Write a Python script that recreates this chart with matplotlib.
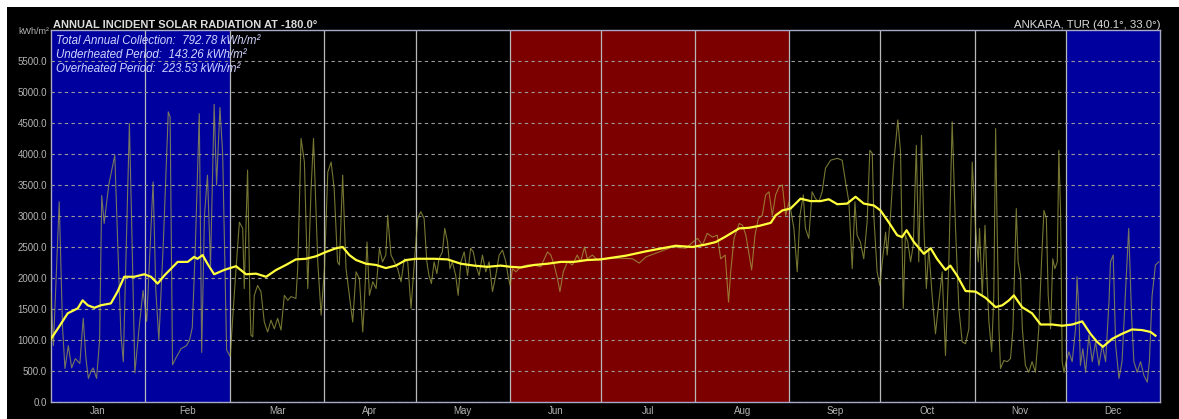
import matplotlib
matplotlib.use('Agg')
import matplotlib.pyplot as plt
from matplotlib.patches import Rectangle
import numpy as np

plt.rcParams['font.family'] = ['Liberation Sans', 'DejaVu Sans']

# months of the year and which ones fall in the heating / cooling periods
months = ['Jan', 'Feb', 'Mar', 'Apr', 'May', 'Jun', 'Jul', 'Aug', 'Sep', 'Oct', 'Nov', 'Dec']
month_len = [31, 28, 31, 30, 31, 30, 31, 31, 30, 31, 30, 31]
underheated = ['Jan', 'Feb', 'Dec']
overheated = ['Jun', 'Jul', 'Aug']

title = 'ANNUAL INCIDENT SOLAR RADIATION AT -180.0°'
location = 'ANKARA, TUR (40.1°, 33.0°)'
total_annual = 792.78
underheated_total = 143.26
overheated_total = 223.53

# daily incident radiation (thin trace), day of year vs kWh/m²
daily_day = [
    0, 0.8, 2.7, 3.8, 4.6, 5.7, 6.8, 8.0, 9.5, 10.6,
    11.5, 12.3, 13.2, 13.9, 15.0, 16.0, 16.7, 17.5, 19.0, 21.0,
    22.0, 23.0, 23.8, 25.8, 26.5, 27.6, 29.0, 30.3, 31.5, 33.6,
    34.5, 35.5, 37.0, 38.6, 39.2, 40.0, 41.0, 42.8, 44.6, 45.6,
    46.5, 47.5, 48.8, 49.6, 50.5, 51.5, 52.5, 53.7, 54.5, 55.6,
    56.5, 57.8, 59.0, 60.0,
    60.9, 62.0, 63.1, 63.6, 64.7, 65.5, 65.8, 66.4, 66.9, 68.0,
    69.1, 70.2, 71.3, 72.4, 73.5, 74.6, 75.7, 76.8, 77.9, 79.0,
    80.6, 81.2, 82.3, 83.4, 84.5, 85.6, 86.4, 87.8, 88.9, 90.0,
    91.1, 92.2, 93.2, 94.3, 94.9, 96.0, 97.1, 98.2, 99.3, 100.4,
    101.5, 102.6, 103.1, 104.0, 104.8, 105.9, 107.0, 108.1, 109.1, 110.2,
    110.8, 111.9, 113.0, 114.1, 115.2, 116.3, 117.4, 118.5, 119.6, 120.7,
    121.7, 122.8, 123.7, 124.4, 125.2, 126.1, 127.0, 127.7, 128.8, 129.6,
    130.5, 131.3, 132.1, 133.2, 134.0, 134.9, 136.0, 137.1, 138.1, 139.0,
    139.8, 140.9, 142.0, 143.1, 144.2, 145.3, 146.4, 147.5, 148.6, 149.7,
    150.4, 151.1, 151.9, 153.0, 154.6, 156.8, 159.0, 161.2, 163.4, 164.5,
    165.6, 166.7, 167.5, 168.6, 170.0, 171.6, 173.2, 174.3, 175.6, 176.5,
    178.2, 179.8, 181.5,
    182.6, 187.0, 191.4, 193.6, 195.8, 200.1, 204.5, 208.9, 211.3, 212.8,
    214.4, 216.0, 217.7, 219.3, 220.4, 221.9, 223.0, 223.7, 224.8, 226.5,
    227.6, 228.7, 229.8, 230.6, 231.7, 232.8, 234.1, 235.2, 236.3, 237.4,
    238.5, 239.6, 240.7, 241.8, 242.9,
    243.4, 244.5, 245.6, 246.5, 247.6, 248.3, 249.4, 250.5, 251.6, 252.7,
    253.8, 254.9, 256.6, 258.8, 260.4, 261.5, 262.6, 263.7, 264.6, 265.3,
    266.4, 267.5, 268.6, 269.5, 270.3, 270.8, 271.9, 272.8, 273.6, 274.7,
    275.2, 276.3, 277.4, 278.7, 279.6, 280.5, 281.2, 282.0, 282.9, 283.8,
    284.8, 285.6, 286.5, 287.3, 288.1, 288.9, 290.0, 291.1, 292.2, 293.3,
    294.4, 295.5, 296.6, 297.7, 298.8, 299.9, 301.0, 302.1, 303.2,
    304.3, 305.2, 305.6, 306.5, 307.4, 308.1, 308.7, 309.6, 310.3, 310.9,
    311.4, 312.0, 312.5, 313.6, 314.7, 315.8, 316.6, 317.2, 317.7, 318.3,
    319.1, 319.7, 320.7, 321.8, 322.9, 324.0, 325.1, 326.0, 326.8, 327.6,
    328.2, 329.0, 329.7, 330.4, 331.2, 331.7, 332.3, 332.8, 333.4, 334.1,
    335.0, 336.1, 337.2, 337.7, 338.3, 338.8, 339.6, 340.5, 341.6, 342.7,
    343.8, 344.9, 346.0, 347.1, 348.2, 348.7, 349.6, 350.4, 351.5, 352.5,
    353.6, 354.7, 355.6, 356.4, 357.5, 358.6, 359.7, 360.8, 361.5, 362.4,
    363.5, 364.6,
]
daily_kwh = [
    1750, 910, 3230, 1200, 540, 910, 550, 700, 620, 1350,
    700, 380, 500, 550, 380, 1000, 3330, 2880, 3500, 3980,
    2500, 1100, 650, 4490, 3000, 470, 1200, 1800, 1300, 3550,
    1800, 1000, 2600, 4680, 4600, 600, 700, 860, 910, 1000,
    1200, 2500, 4650, 800, 3000, 3660, 2200, 4800, 3500, 4750,
    4000, 840, 730, 1500,
    2150, 2900, 2800, 1830, 3740, 1560, 1080, 1050, 1720, 1880,
    1780, 1290, 1130, 1320, 1180, 1350, 1160, 1720, 1640, 1700,
    1670, 2150, 4250, 3870, 1830, 3440, 4250, 2260, 1400, 2150,
    3710, 3870, 3440, 2260, 2210, 3660, 2150, 1720, 1290, 2100,
    1990, 1130, 1560, 2580, 1720, 1940, 1830, 2480, 2260, 2370,
    3010, 2370, 2260, 2150, 1940, 2310, 2260, 1510, 2260, 2960,
    3070, 2960, 2260, 2040, 1910, 2260, 2070, 2310, 2420, 2800,
    2580, 2150, 2260, 2040, 1720, 2260, 2420, 2040, 2480, 2420,
    2210, 2040, 2370, 2100, 2260, 1780, 2040, 2370, 2450, 2260,
    2040, 1880, 2150, 2100, 2180, 2210, 2210, 2180, 2420, 2370,
    2210, 1990, 1780, 2100, 2260, 2210, 2370, 2260, 2500, 2310,
    2370, 2290, 2310,
    2310, 2320, 2310, 2240, 2340, 2420, 2500, 2480, 2580, 2640,
    2530, 2720, 2660, 2690, 2310, 2370, 1610, 2100, 2640, 2880,
    2850, 2690, 2370, 2130, 2690, 2960, 3010, 3340, 3390, 3010,
    3340, 3470, 3500, 3010, 3230,
    3120, 2800, 2100, 3010, 3340, 2800, 2640, 3390, 3280, 3230,
    3390, 3770, 3900, 3930, 3900, 3550, 3230, 2150, 3230, 2690,
    2580, 2310, 2900, 4060, 4010, 3010, 2100, 1880, 2260, 2740,
    2370, 3010, 3870, 4550, 4040, 1510, 2690, 2580, 2260, 2530,
    4140, 2260, 4300, 2800, 1830, 2480, 1720, 1100, 1610, 2100,
    750, 2260, 4520, 2800, 1510, 970, 940, 1180, 3870,
    2800, 2260, 2800, 1720, 2850, 1940, 1290, 810, 1720, 4410,
    2800, 1180, 540, 670, 650, 700, 1180, 2260, 3120, 2260,
    2040, 1180, 590, 480, 650, 480, 1180, 2260, 3090, 2960,
    1720, 1180, 2310, 2150, 2260, 4060, 3010, 650, 480, 650,
    810, 650, 1180, 2020, 1450, 590, 860, 480, 1080, 650,
    970, 590, 920, 650, 1610, 2260, 2370, 920, 380, 650,
    1720, 2800, 1450, 650, 480, 650, 430, 320, 650, 1720,
    2210, 2260,
]

# running average (thick yellow trace)
avg_day = [
    0, 2.2, 5.5, 8.8, 10.4, 12.1, 14.3, 16.4, 19.7, 21.9,
    24.1, 27.4, 30.7, 32.9, 35.1, 37.3, 39.5, 41.7, 45.0, 47.1,
    48.2, 49.9, 51.5, 53.7, 57.0, 60.9, 64.2, 67.5, 70.8, 74.1,
    77.3, 80.6, 83.9, 87.2, 90.5, 93.8, 96.0, 98.2, 100.4, 103.7,
    107.0, 110.2, 113.5, 116.8, 120.1, 126.1, 130.5, 134.9, 139.2, 143.6,
    148.0, 151.3, 154.6, 159.0, 163.4, 167.8, 172.1, 176.5, 180.9, 189.2,
    195.8, 202.3, 205.6, 211.1, 215.5, 218.8, 222.1, 226.5, 229.7, 233.0,
    236.9, 238.5, 240.7, 243.4, 246.7, 250.0, 253.3, 256.0, 258.8, 262.0,
    264.8, 267.5, 270.8, 273.0, 275.7, 278.5, 280.1, 281.6, 284.0, 287.3,
    289.5, 291.6, 294.4, 296.0, 298.2, 301.0, 304.3, 307.6, 310.9, 313.1,
    315.3, 316.9, 319.6, 322.9, 325.7, 329.5, 332.8, 336.1, 339.4, 342.1,
    344.3, 346.2, 349.3, 352.5, 355.8, 359.1, 361.9, 363.5,
]
avg_kwh = [
    1020, 1180, 1430, 1510, 1640, 1560, 1520, 1560, 1590, 1780,
    2020, 2020, 2060, 2020, 1910, 2040, 2150, 2260, 2260, 2340,
    2310, 2370, 2230, 2060, 2130, 2190, 2060, 2070, 2020, 2130,
    2210, 2300, 2310, 2350, 2420, 2480, 2500, 2370, 2290, 2230,
    2210, 2160, 2200, 2290, 2310, 2310, 2300, 2230, 2200, 2180,
    2200, 2180, 2170, 2210, 2230, 2260, 2260, 2290, 2300, 2360,
    2430, 2490, 2520, 2500, 2540, 2580, 2670, 2800, 2810, 2840,
    2890, 3010, 3090, 3120, 3280, 3240, 3240, 3270, 3190, 3200,
    3310, 3200, 3170, 3090, 2900, 2690, 2660, 2770, 2580, 2390,
    2480, 2310, 2130, 2200, 2040, 1790, 1780, 1680, 1530, 1560,
    1640, 1720, 1530, 1430, 1250, 1250, 1230, 1250, 1300, 1100,
    970, 890, 1020, 1100, 1170, 1160, 1130, 1070,
]

W, H = 1179, 419
fig = plt.figure(figsize=(W / 100, H / 100), dpi=100, facecolor='white')
# black panel behind everything (thin white border on top / left)
fig.add_artist(Rectangle((7 / W, 0), 1, (H - 7) / H, transform=fig.transFigure,
                         facecolor='black', edgecolor='none', zorder=-5))

ax = fig.add_axes([51 / W, (H - 402) / H, (1160 - 51) / W, (402 - 30) / H])
ax.set_facecolor('black')

starts = np.concatenate([[0], np.cumsum(month_len)])

# period shading
for i, m in enumerate(months):
    if m in underheated:
        ax.axvspan(starts[i], starts[i + 1], color='#00009e', lw=0, zorder=0)
    elif m in overheated:
        ax.axvspan(starts[i], starts[i + 1], color='#7c0000', lw=0, zorder=0)

# horizontal dashed grid + month dividers
ax.set_yticks(np.arange(0, 6000, 500))
ax.yaxis.grid(True, color='#9a9a9a', lw=0.8, ls=(0, (3, 3)), zorder=1)
ax.set_axisbelow(False)
for b in starts[1:-1]:
    ax.axvline(b, color='#b8b8b8', lw=0.9, zorder=2)

ax.plot(daily_day, daily_kwh, color='#a8a848', lw=0.8, alpha=0.7, zorder=3)
ax.plot(avg_day, avg_kwh, color='#ffff3c', lw=1.6, zorder=4)

ax.set_xlim(0, 365)
ax.set_ylim(0, 6000)
ax.set_yticklabels([f'{v:.1f}' for v in np.arange(0, 6000, 500)])
ax.set_xticks((starts[:-1] + starts[1:]) / 2)
ax.set_xticklabels(months)
ax.tick_params(length=0, colors='#b4b4b4', labelsize=7, pad=3)
for s in ax.spines.values():
    s.set_color('#a8a8c8')
    s.set_linewidth(1.0)

# header texts
fig.text(53 / W, 1 - 25 / H, title, color='#dcdcdc', fontsize=8,
         fontweight='bold', ha='left', va='center')
fig.text(1160 / W, 1 - 25 / H, location, color='#dcdcdc', fontsize=8.2,
         ha='right', va='center')
fig.text(49 / W, 1 - 31 / H, 'kWh/m²', color='#b4b4b4', fontsize=6.5,
         ha='right', va='center')

stats = [
    f'Total Annual Collection:  {total_annual:.2f} kWh/m²',
    f'Underheated Period:  {underheated_total:.2f} kWh/m²',
    f'Overheated Period:  {overheated_total:.2f} kWh/m²',
]
for i, line in enumerate(stats):
    fig.text(56 / W, 1 - (41 + 14 * i) / H, line, color='#d0d4ff', fontsize=8.3,
             style='italic', ha='left', va='center')

fig.savefig('out.png', dpi=100, facecolor=fig.get_facecolor())
